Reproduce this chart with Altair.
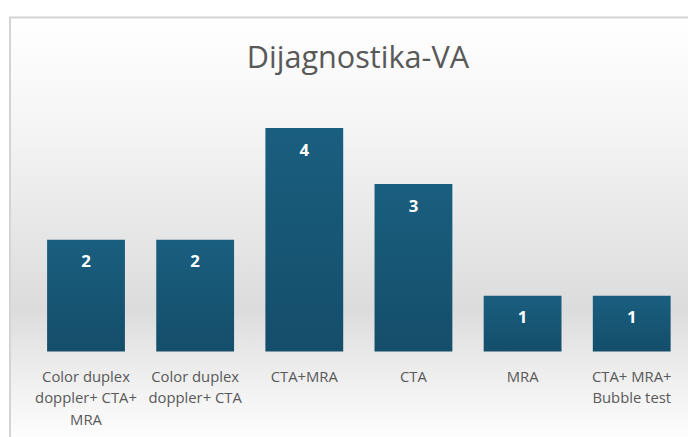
import altair as alt
import pandas as pd

categories = [
    "Color duplex|doppler+ CTA+|MRA",
    "Color duplex|doppler+ CTA",
    "CTA+MRA",
    "CTA",
    "MRA",
    "CTA+ MRA+|Bubble test",
]
values = [2, 2, 4, 3, 1, 1]
title_text = "Dijagnostika-VA"

df = pd.DataFrame({"cat": categories, "val": values})

W, H = 688, 345

bg = alt.Chart(pd.DataFrame({"a": [0]})).mark_rect(
    stroke="#d3d3d3",
    strokeWidth=2,
    color=alt.Gradient(
        gradient="linear",
        x1=0, y1=0, x2=0, y2=1,
        stops=[
            alt.GradientStop(color="#ffffff", offset=0),
            alt.GradientStop(color="#f5f5f5", offset=0.25),
            alt.GradientStop(color="#dcdcdc", offset=0.68),
            alt.GradientStop(color="#f3f3f3", offset=0.88),
            alt.GradientStop(color="#ffffff", offset=1),
        ],
    ),
).encode(x=alt.value(2), x2=alt.value(720), y=alt.value(7), y2=alt.value(440))

title = alt.Chart(pd.DataFrame({"t": [title_text]})).mark_text(
    font="Open Sans",
    fontSize=31,
    color="#595959",
    align="center",
    baseline="alphabetic",
).encode(x=alt.value(354), y=alt.value(58), text="t:N")

xenc = alt.X(
    "cat:N",
    sort=categories,
    scale=alt.Scale(range=[23, 687], paddingInner=0.287, paddingOuter=0.15),
    axis=alt.Axis(
        title=None,
        labelAngle=0,
        domain=False,
        ticks=False,
        zindex=1,
        labelExpr="split(datum.label, '|')",
        labelFont="Open Sans",
        labelFontSize=15,
        labelColor="#595959",
        labelLineHeight=22,
        labelPadding=18,
        labelBaseline="top",
    ),
)
yenc = alt.Y(
    "val:Q",
    scale=alt.Scale(domain=[0, 4], range=[345, 119]),
    axis=None,
)

bars = alt.Chart(df).mark_bar(
    color=alt.Gradient(
        gradient="linear",
        x1=0, y1=0, x2=0, y2=1,
        stops=[
            alt.GradientStop(color="#1a5e7f", offset=0),
            alt.GradientStop(color="#144e6a", offset=1),
        ],
    ),
).encode(x=xenc, y=yenc)

labels = alt.Chart(df).mark_text(
    color="white",
    font="Open Sans",
    fontWeight="bold",
    fontSize=17,
    baseline="middle",
    dy=23,
).encode(x=alt.X("cat:N", sort=categories), y=alt.Y("val:Q"), text="val:Q")

chart = alt.layer(bg, title, bars, labels).properties(
    width=W,
    height=H,
    autosize=alt.AutoSizeParams(type="none"),
    padding={"left": 0, "top": 0, "right": 0, "bottom": 84},
    background="white",
).configure_view(stroke=None)

chart.save("out.html", embed_options={"renderer": "svg", "actions": False})
